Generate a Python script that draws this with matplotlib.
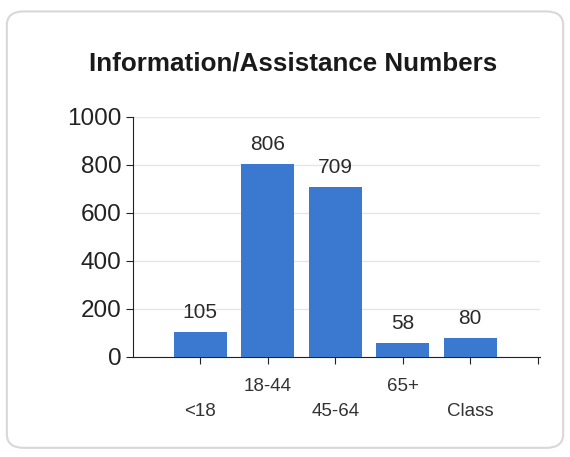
import matplotlib.pyplot as plt
from matplotlib.patches import FancyBboxPatch

plt.rcParams["font.family"] = ["Liberation Sans", "DejaVu Sans"]

categories = ["<18", "18-44", "45-64", "65+", "Class"]
counts = [105, 806, 709, 58, 80]
y_ticks = [0, 200, 400, 600, 800, 1000]

fig = plt.figure(figsize=(5.7, 4.57), dpi=100)
fig.patch.set_facecolor("white")

# rounded card border like the original
card = FancyBboxPatch((0.012, 0.02), 0.976, 0.955,
                      boxstyle="round,pad=0,rounding_size=0.03",
                      transform=fig.transFigure, facecolor="white",
                      edgecolor="#d8d8d8", linewidth=1.5, zorder=-10)
fig.patches.append(card)

ax = fig.add_axes([0.233, 0.219, 0.714, 0.525])
ax.set_facecolor("none")

x = list(range(len(categories)))
bars = ax.bar(x, counts, width=0.79, color="#3b79d1", zorder=3)

for b, v in zip(bars, counts):
    ax.annotate(str(v), (b.get_x() + b.get_width() / 2, v),
                xytext=(0, 7), textcoords="offset points",
                ha="center", va="bottom", fontsize=15, color="#2a2a2a")

ax.set_xlim(-1.0, 5.03)
ax.set_ylim(0, 1000)
ax.set_yticks(y_ticks)
ax.yaxis.grid(True, color="#e6e6e6", linewidth=1, zorder=0)
ax.tick_params(axis="y", labelsize=17.5, length=5, color="#222222",
               labelcolor="#222222", pad=3)

# category ticks plus a closing tick at the right end of the axis
ax.set_xticks(x + [5])
ax.set_xticklabels(categories + [""], fontsize=13.5, color="#333333")
ax.tick_params(axis="x", length=5, color="#222222")
for i, t in enumerate(ax.xaxis.get_major_ticks()):
    t.set_pad(28 if i % 2 == 0 else 10)

for s in ["top", "right"]:
    ax.spines[s].set_visible(False)
ax.spines["left"].set_color("#222222")
ax.spines["bottom"].set_color("#222222")

fig.text(0.515, 0.862, "Information/Assistance Numbers", ha="center",
         va="center", fontsize=18.7, fontweight="bold", color="#1a1a1a")

fig.savefig("out.png", dpi=100)
